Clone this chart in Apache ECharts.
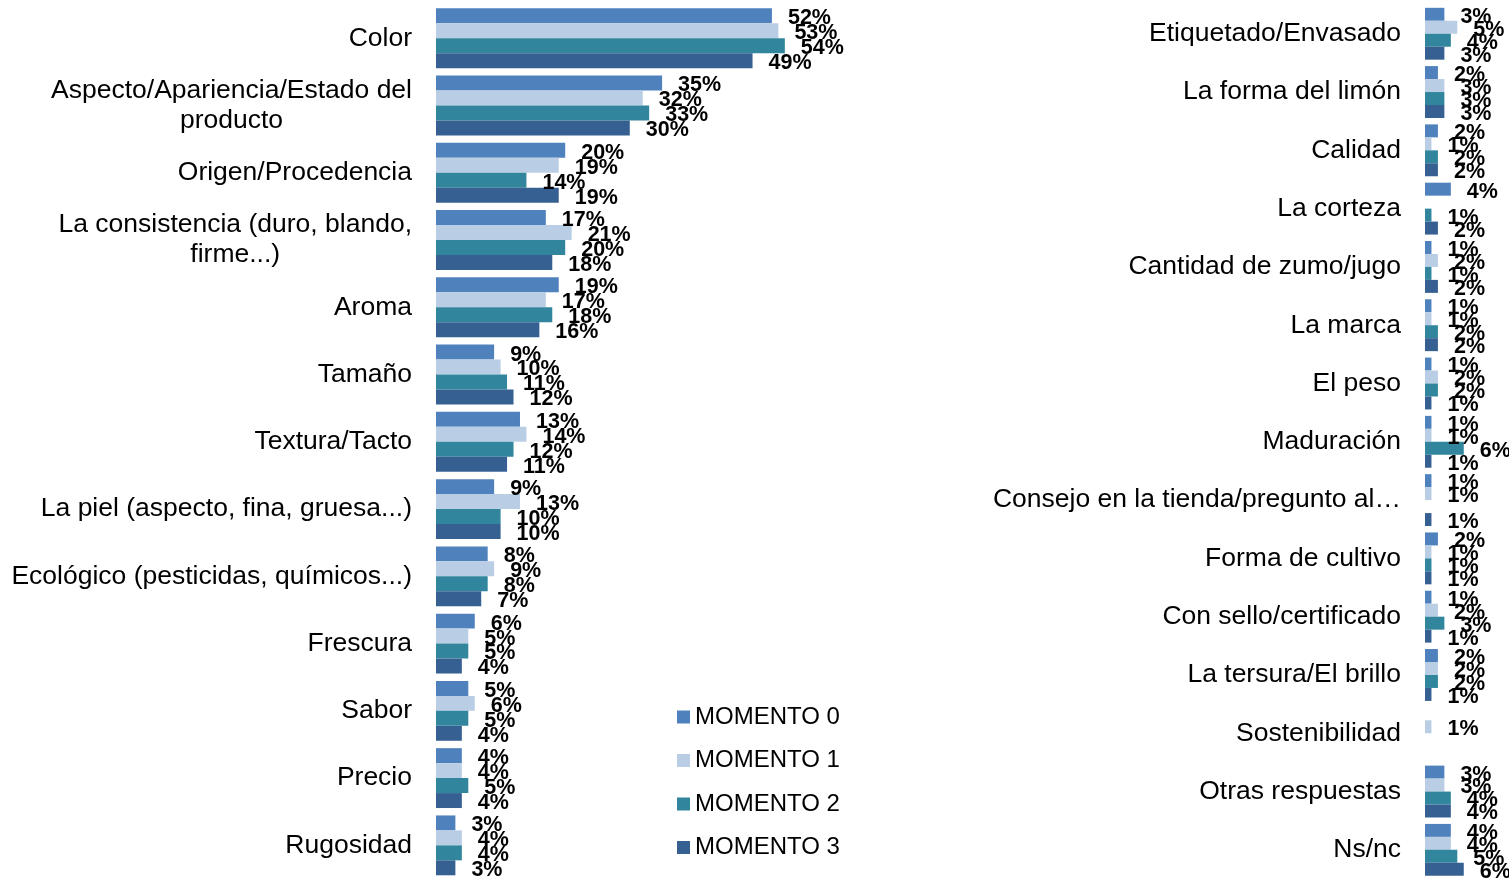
<!DOCTYPE html>
<html>
<head>
<meta charset="utf-8">
<title>Atributos de compra del limón</title>
<script src="https://cdn.jsdelivr.net/npm/echarts@6/dist/echarts.min.js"></script>
<style>
  html, body { margin: 0; padding: 0; background: #ffffff; }
  #chart { width: 1509px; height: 879px; }
</style>
</head>
<body>
<div id="chart"></div>
<script>
// Panel izquierdo: atributos principales (valores en %)
const leftCategories = [
  'Color',
  'Aspecto/Apariencia/Estado del\nproducto',
  'Origen/Procedencia',
  'La consistencia (duro, blando,\nfirme...)',
  'Aroma',
  'Tamaño',
  'Textura/Tacto',
  'La piel (aspecto, fina, gruesa...)',
  'Ecológico (pesticidas, químicos...)',
  'Frescura',
  'Sabor',
  'Precio',
  'Rugosidad'
];
const leftM0 = [52, 35, 20, 17, 19, 9, 13, 9, 8, 6, 5, 4, 3];
const leftM1 = [53, 32, 19, 21, 17, 10, 14, 13, 9, 5, 6, 4, 4];
const leftM2 = [54, 33, 14, 20, 18, 11, 12, 10, 8, 5, 5, 5, 4];
const leftM3 = [49, 30, 19, 18, 16, 12, 11, 10, 7, 4, 4, 4, 3];

// Panel derecho: atributos secundarios (valores en %, null = sin respuesta)
const rightCategories = [
  'Etiquetado/Envasado',
  'La forma del limón',
  'Calidad',
  'La corteza',
  'Cantidad de zumo/jugo',
  'La marca',
  'El peso',
  'Maduración',
  'Consejo en la tienda/pregunto al…',
  'Forma de cultivo',
  'Con sello/certificado',
  'La tersura/El brillo',
  'Sostenibilidad',
  'Otras respuestas',
  'Ns/nc'
];
const rightM0 = [3, 2, 2, 4, 1, 1, 1, 1, 1, 2, 1, 2, null, 3, 4];
const rightM1 = [5, 3, 1, null, 2, 1, 2, 1, 1, 1, 2, 2, 1, 3, 4];
const rightM2 = [4, 3, 2, 1, 1, 2, 2, 6, null, 1, 3, 2, null, 4, 5];
const rightM3 = [3, 3, 2, 2, 2, 2, 1, 1, 1, 1, 1, 1, null, 4, 6];

const seriesNames = ['MOMENTO 0', 'MOMENTO 1', 'MOMENTO 2', 'MOMENTO 3'];
const seriesColors = ['#4F81BD', '#B9CDE5', '#31859C', '#376092'];

const FONT = '"Liberation Sans", Arial, Helvetica, sans-serif';
const PX_PER_PCT = 6.46;

function categoryAxis(gridIndex, data) {
  return {
    type: 'category',
    gridIndex: gridIndex,
    data: data,
    inverse: true,
    axisLine: { show: false },
    axisTick: { show: false },
    splitLine: { show: false },
    axisLabel: {
      margin: 24,
      color: '#000000',
      fontFamily: FONT,
      fontSize: 26.5,
      formatter: function (v) {
        return v.split('\n').map(function (l) { return '{c|' + l + '}'; }).join('\n');
      },
      rich: {
        c: { align: 'center', fontFamily: FONT, fontSize: 26.5, lineHeight: 30, color: '#000000' }
      }
    }
  };
}

function valueAxis(gridIndex, max) {
  return {
    type: 'value',
    gridIndex: gridIndex,
    min: 0,
    max: max,
    show: false
  };
}

function barSeries(name, color, values, axisIndex) {
  return {
    name: name,
    type: 'bar',
    xAxisIndex: axisIndex,
    yAxisIndex: axisIndex,
    data: values,
    barGap: '0%',
    barCategoryGap: '11%',
    itemStyle: { color: color },
    emphasis: { disabled: true },
    label: {
      show: true,
      position: 'right',
      distance: 16,
      offset: [0, 2.5],
      color: '#000000',
      fontFamily: FONT,
      fontSize: 21.5,
      fontWeight: 'bold',
      formatter: function (p) { return p.value + '%'; }
    }
  };
}

const leftData = [leftM0, leftM1, leftM2, leftM3];
const rightData = [rightM0, rightM1, rightM2, rightM3];

const series = [];
seriesNames.forEach(function (n, i) { series.push(barSeries(n, seriesColors[i], leftData[i], 0)); });
seriesNames.forEach(function (n, i) { series.push(barSeries(n, seriesColors[i], rightData[i], 1)); });

const chart = echarts.init(document.getElementById('chart'), null, { renderer: 'canvas' });
chart.setOption({
  animation: false,
  backgroundColor: '#ffffff',
  grid: [
    { left: 436, top: 4.6, width: 60 * PX_PER_PCT, height: 875.8, containLabel: false },
    { left: 1425, top: 4.6, width: 12 * PX_PER_PCT, height: 875.4, containLabel: false }
  ],
  xAxis: [valueAxis(0, 60), valueAxis(1, 12)],
  yAxis: [categoryAxis(0, leftCategories), categoryAxis(1, rightCategories)],
  legend: {
    data: seriesNames,
    orient: 'vertical',
    left: 677,
    top: 705,
    padding: 0,
    icon: 'rect',
    itemWidth: 13,
    itemHeight: 13,
    itemGap: 19.5,
    textStyle: { fontFamily: FONT, fontSize: 24, lineHeight: 24, color: '#000000' },
    selectedMode: false
  },
  series: series
});
</script>
</body>
</html>
